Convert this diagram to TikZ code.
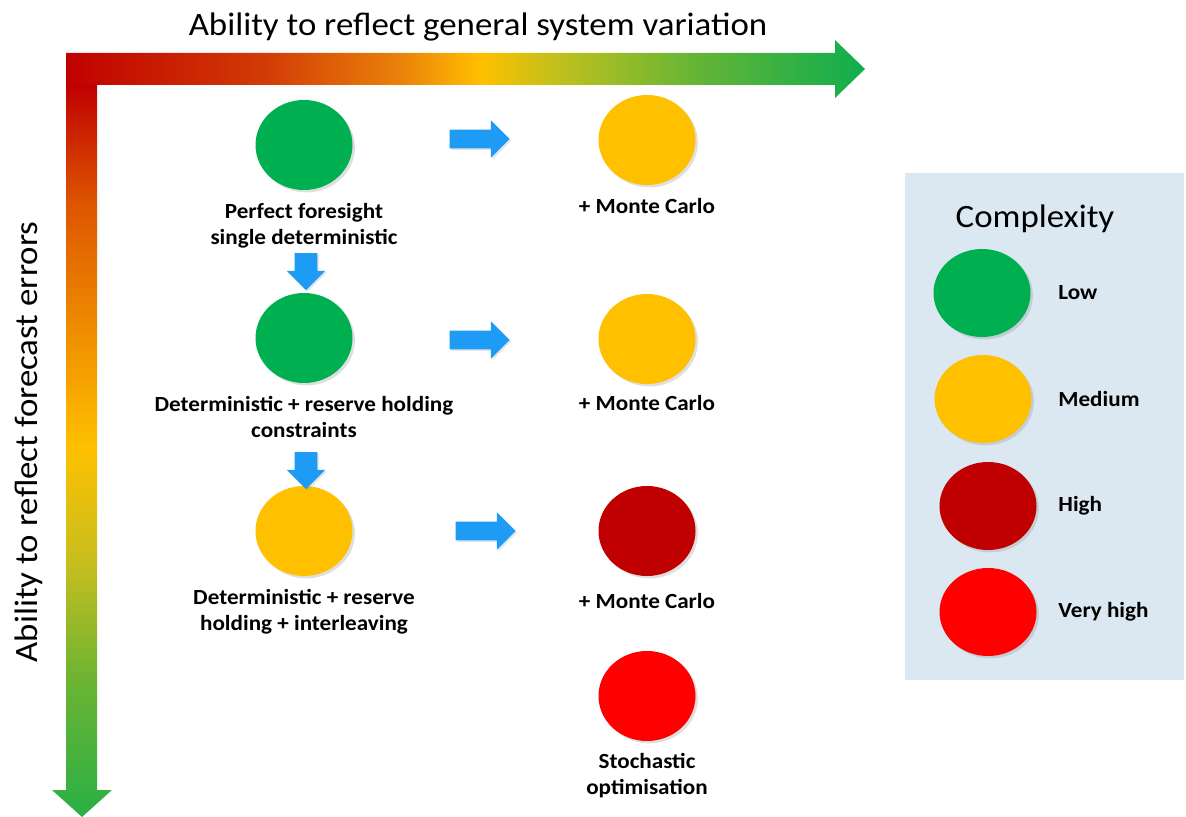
\documentclass[tikz,border=0pt]{standalone}
\usepackage{fontspec}
\setmainfont{Carlito}[FakeStretch=1.07]
\usepackage{tikz}
\usetikzlibrary{positioning,shapes.geometric,shapes.arrows,shadows}
\definecolor{lowgreen}{HTML}{00B050}
\definecolor{medorange}{HTML}{FFC000}
\definecolor{highred}{HTML}{C00000}
\definecolor{vhighred}{HTML}{FF0000}
\definecolor{arrowblue}{RGB}{30,155,245}
\definecolor{keyfill}{RGB}{219,232,242}
% axis gradients: red -> orange -> gold -> green
\definecolor{ax1}{RGB}{210,60,5}
\definecolor{ax2}{RGB}{235,130,10}
\definecolor{ax3}{RGB}{190,192,30}
\definecolor{ax4}{RGB}{95,180,55}
\definecolor{ax5}{RGB}{15,174,78}
\definecolor{ay1}{RGB}{220,85,0}
\definecolor{ay2}{RGB}{200,190,30}
\definecolor{ay3}{RGB}{110,180,50}
\definecolor{ay4}{RGB}{40,176,70}
\pgfdeclarehorizontalshading{xaxisshade}{100bp}{color(0bp)=(highred); color(25bp)=(highred);
  color(37.5bp)=(ax1); color(46bp)=(ax2); color(51bp)=(medorange);
  color(56bp)=(ax3); color(65bp)=(ax4); color(75bp)=(ax5); color(100bp)=(ax5)}
\pgfdeclareverticalshading{yaxisshade}{100bp}{color(0bp)=(ay4); color(25bp)=(ay4);
  color(34.5bp)=(ay3); color(42.5bp)=(ay2); color(50.3bp)=(medorange);
  color(67bp)=(ay1); color(75bp)=(highred); color(100bp)=(highred)}

\begin{document}
\begin{tikzpicture}[x=0.5pt,y=-0.5pt,
    blob/.style={ellipse,minimum width=48.5pt,minimum height=45pt,inner sep=0pt,
      drop shadow={shadow xshift=1.2pt,shadow yshift=-1.2pt,opacity=0.25}},
    keyblob/.style={blob,minimum height=44pt},
    lbl/.style={font=\fontsize{10.8}{13}\selectfont\bfseries,align=center,inner sep=0pt},
    big/.style={font=\fontsize{16.3}{19}\selectfont,inner sep=0pt},
    rarrow/.style={single arrow,fill=arrowblue,inner sep=4.5pt,single arrow head extend=4.75pt,
      minimum height=30pt,drop shadow={shadow xshift=0.8pt,shadow yshift=-0.8pt,opacity=0.2}},
    darrow/.style={rarrow,shape border rotate=270,inner sep=5.5pt,single arrow head extend=4pt,
      minimum height=18.5pt}]

  \useasboundingbox (0,0) rectangle (1186,817);

  % axes
  \shade[shading=yaxisshade] (66,85) -- (97,85) -- (97,790) -- (112,790) -- (82,817)
    -- (52,790) -- (66,790) -- cycle;
  \shade[shading=xaxisshade] (66,53) -- (835,53) -- (835,40) -- (865,69) -- (835,98)
    -- (835,85) -- (66,85) -- cycle;
  \node[big,anchor=base] (xlabel) at (478,36) {Ability to reflect general system variation};
  \node[big,rotate=90,anchor=base] (ylabel) at (37,442) {Ability to reflect forecast errors};

  % methods
  \node[blob,fill=lowgreen] (pf) at (304,145) {};
  \node[blob,fill=lowgreen] (dr) at (304,338) {};
  \node[blob,fill=medorange] (di) at (304,531) {};
  \node[blob,fill=medorange] (pfmc) at (647,140) {};
  \node[blob,fill=medorange] (drmc) at (647,339) {};
  \node[blob,fill=highred] (dimc) at (647,531) {};
  \node[blob,fill=vhighred] (so) at (647,696) {};

  \node[lbl,below=6.5pt of pf] (pftxt) {Perfect foresight\\single deterministic};
  \node[lbl,below=6.5pt of dr] (drtxt) {Deterministic + reserve holding\\constraints};
  \node[lbl,below=6.5pt of di] (ditxt) {Deterministic + reserve\\holding + interleaving};
  \node[lbl,below=6.5pt of pfmc] (pfmctxt) {+ Monte Carlo};
  \node[lbl,below=5.5pt of drmc] (drmctxt) {+ Monte Carlo};
  \node[lbl,below=8.5pt of dimc] (dimctxt) {+ Monte Carlo};
  \node[lbl,below=6pt of so] (sotxt) {Stochastic\\optimisation};

  \node[rarrow] (r1) at (475,139) {};
  \node[rarrow] (r2) at (475,340) {};
  \node[rarrow] (r3) at (481,531) {};
  \node[darrow] (d1) at (306,266) {};
  \node[darrow] (d2) at (306,465) {};

  % legend
  \fill[keyfill] (905,173) rectangle (1184,680);
  \node[big,anchor=base] (keytitle) at (1035,228) {Complexity};
  \node[keyblob,fill=lowgreen] (klow) at (982,293) {};
  \node[keyblob,fill=medorange] (kmed) at (983,399) {};
  \node[keyblob,fill=highred] (khigh) at (988,506) {};
  \node[keyblob,fill=vhighred] (kvhigh) at (988,612) {};
  \node[lbl,anchor=west] (tlow) at (1058,293) {Low};
  \node[lbl,anchor=west] (tmed) at (1058,399) {Medium};
  \node[lbl,anchor=west] (thigh) at (1058,506) {High};
  \node[lbl,anchor=west] (tvhigh) at (1058,612) {Very high};
\end{tikzpicture}
\end{document}
